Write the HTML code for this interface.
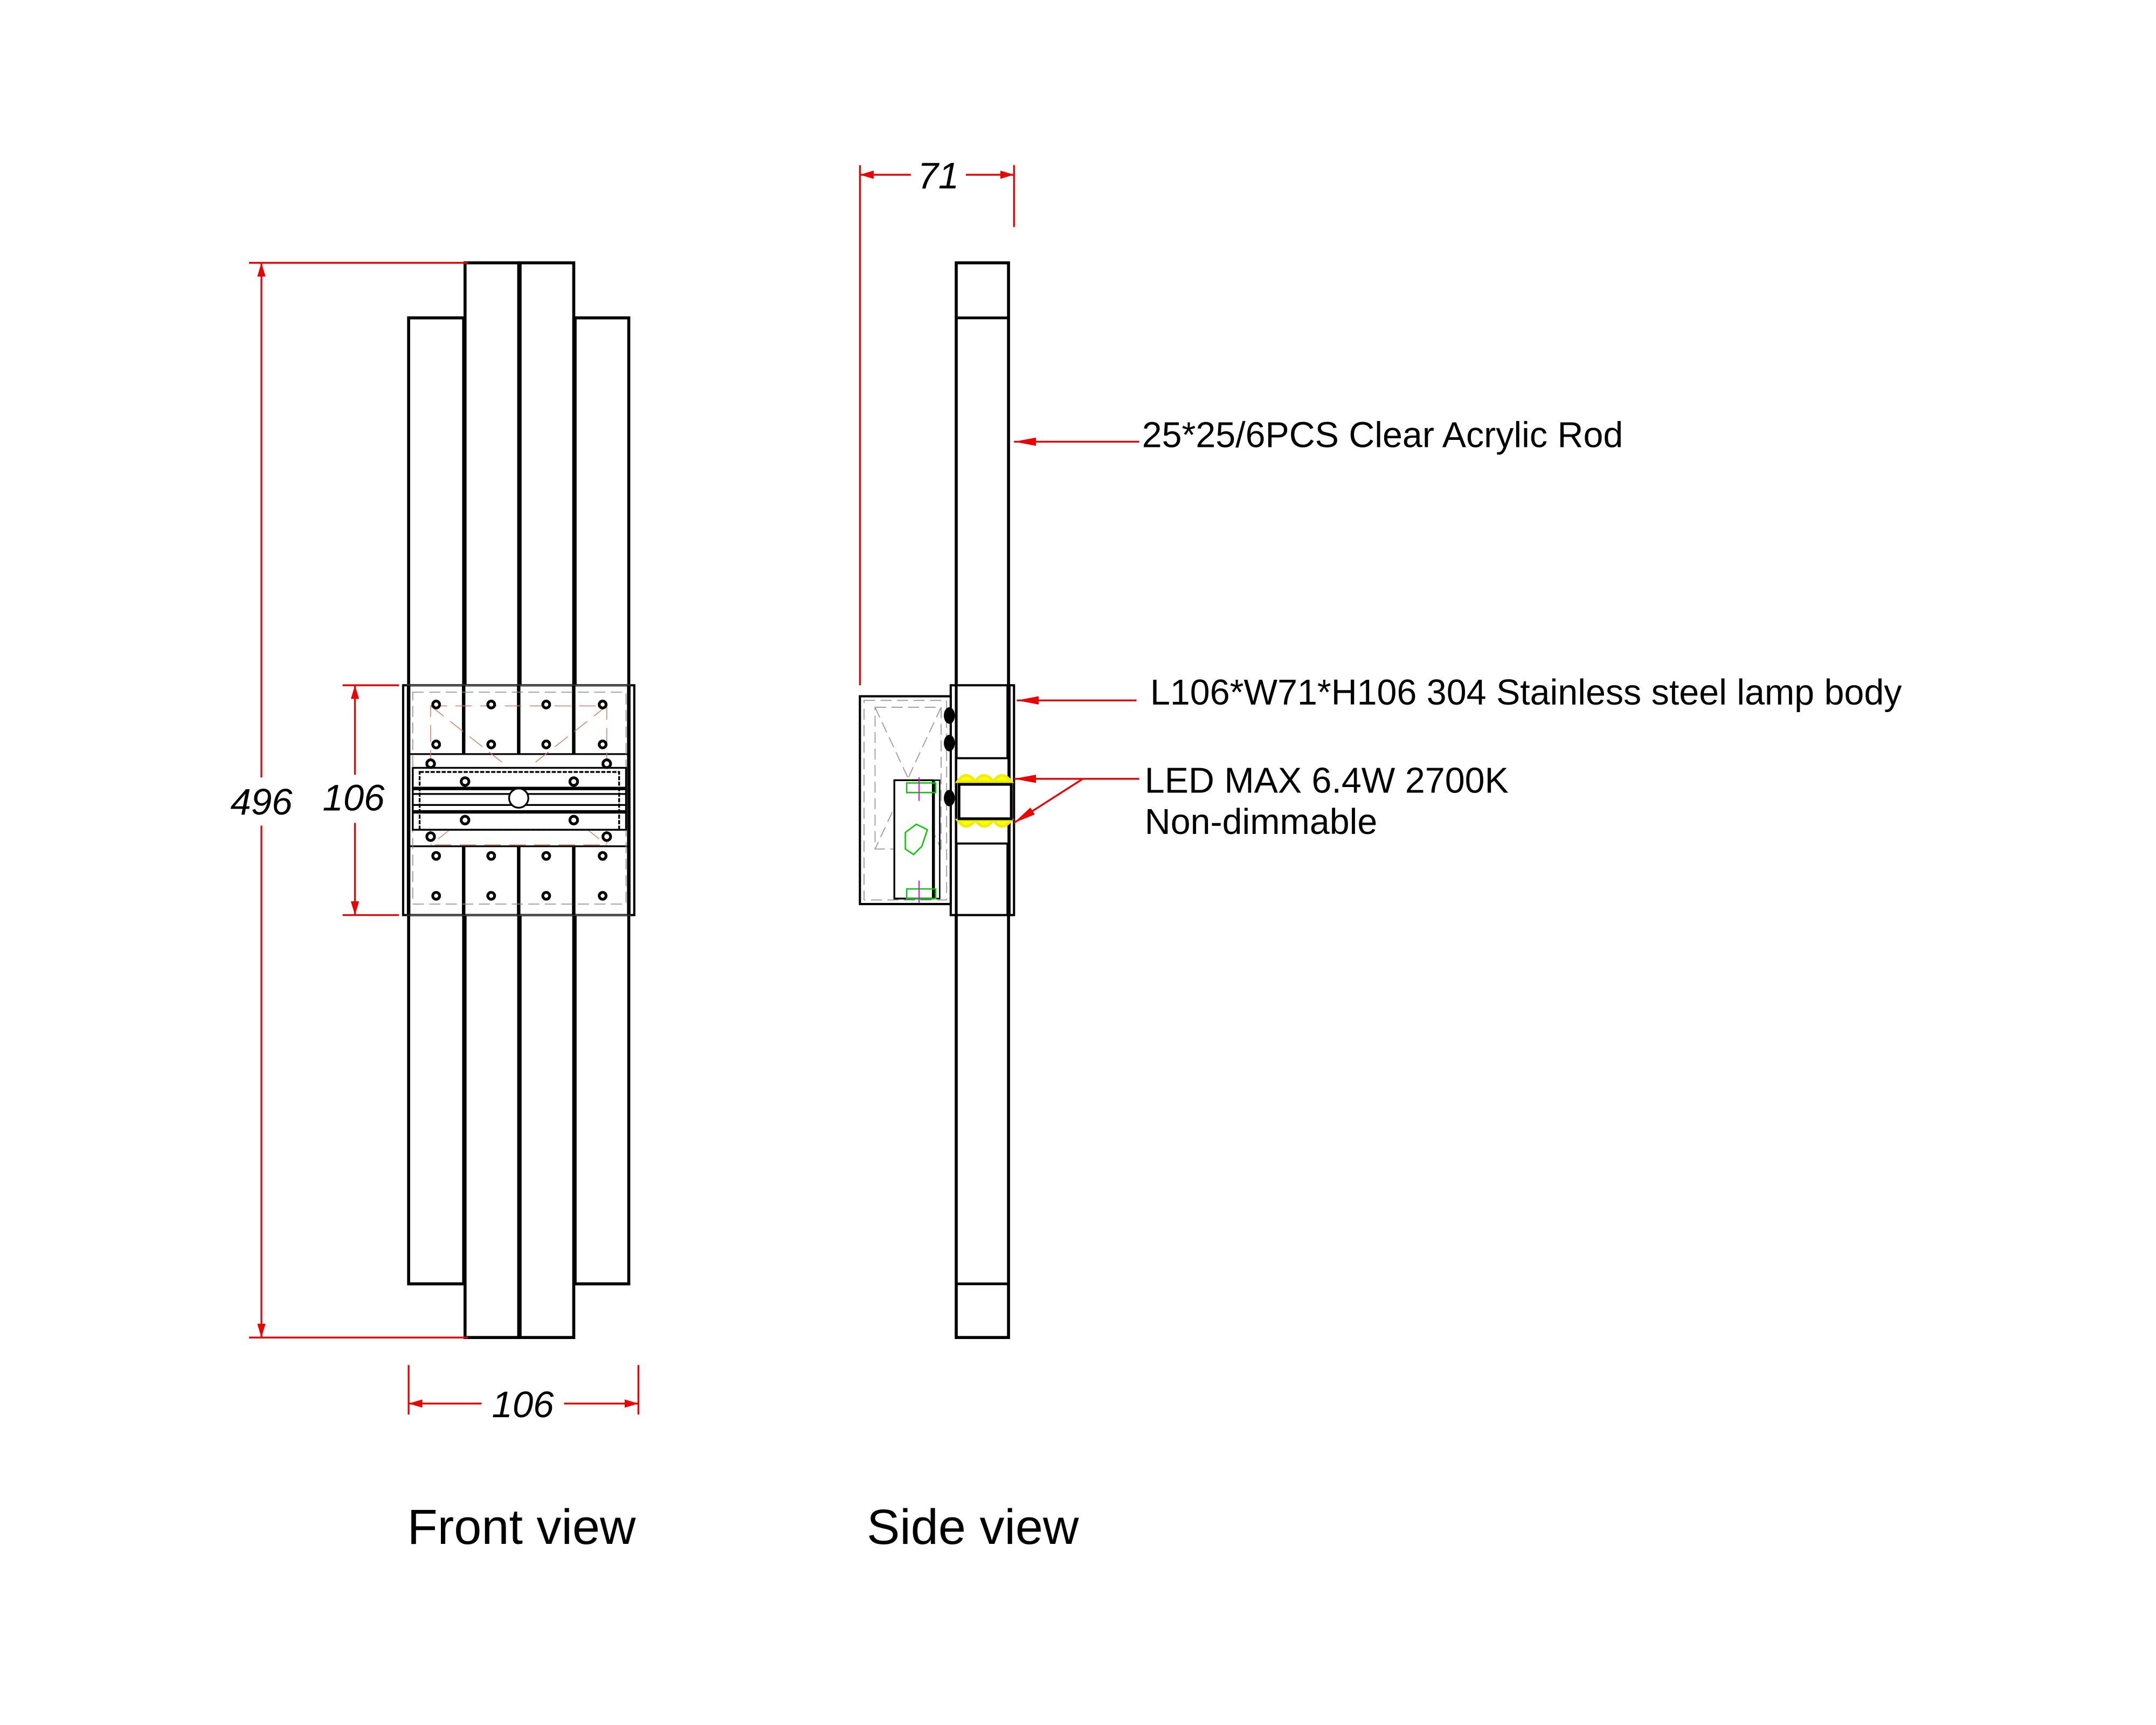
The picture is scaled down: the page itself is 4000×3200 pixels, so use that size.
<!DOCTYPE html>
<html><head><meta charset="utf-8"><style>html,body{margin:0;padding:0;background:#fff}svg{display:block}</style></head>
<body>
<svg width="4000" height="3200" viewBox="0 0 1567 1253.6" xmlns="http://www.w3.org/2000/svg" font-family="Liberation Sans, sans-serif">
<defs>
<marker id="a" viewBox="0 0 10 6" refX="10" refY="3" markerWidth="10" markerHeight="6" markerUnits="userSpaceOnUse" orient="auto"><path d="M0,0L10,3L0,6z" fill="#e00"/></marker>
<marker id="b" viewBox="0 0 16 6" refX="16" refY="3" markerWidth="16" markerHeight="6" markerUnits="userSpaceOnUse" orient="auto"><path d="M0,0L16,3L0,6z" fill="#e00"/></marker>
</defs>
<rect width="1567" height="1253.6" fill="#fff"/>
<g fill="#fff" stroke="#000" stroke-width="2.2">
<rect x="297" y="231" width="40" height="702"/>
<rect x="338" y="191" width="39" height="781"/>
<rect x="378" y="191" width="39" height="781"/>
<rect x="418" y="231" width="39" height="702"/>
</g>
<rect x="293" y="498" width="168" height="167" fill="#fff" stroke="#000" stroke-width="1.6"/>
<rect x="296" y="498" width="162" height="167" fill="none" stroke="#888" stroke-width="0.6"/>
<g stroke="#000" stroke-width="2.5">
<line x1="297" y1="498" x2="297" y2="665"/><line x1="337" y1="498" x2="337" y2="548"/><line x1="337" y1="615" x2="337" y2="665"/>
<line x1="377" y1="498" x2="377" y2="548"/><line x1="377" y1="615" x2="377" y2="665"/>
<line x1="417" y1="498" x2="417" y2="548"/><line x1="417" y1="615" x2="417" y2="665"/>
<line x1="457" y1="498" x2="457" y2="665"/>
<line x1="297" y1="548" x2="457" y2="548" stroke-width="1.3"/><line x1="297" y1="615" x2="457" y2="615" stroke-width="1.3"/>
</g>
<g fill="none" stroke="#888" stroke-width="0.6" stroke-dasharray="8,4"><rect x="300" y="503" width="155" height="154"/></g>
<g fill="none" stroke="#d08060" stroke-width="0.6" stroke-dasharray="12,6"><rect x="313" y="513" width="128" height="101"/><line x1="313" y1="513" x2="441" y2="614"/><line x1="441" y1="513" x2="313" y2="614"/></g>
<g fill="#fff" stroke="#000" stroke-width="1.3">
<rect x="300" y="558" width="155" height="45"/><rect x="305" y="561" width="145" height="42" fill="none" stroke-dasharray="3,1"/>
<line x1="300" y1="573" x2="455" y2="573" stroke-width="2.5"/><line x1="300" y1="577" x2="455" y2="577"/>
<line x1="300" y1="585" x2="455" y2="585"/><line x1="300" y1="590" x2="455" y2="590" stroke-width="2.5"/>
<circle cx="377" cy="580" r="7"/>
</g>
<g fill="#fff" stroke="#000" stroke-width="2">
<circle cx="317" cy="512" r="2.5"/><circle cx="357" cy="512" r="2.5"/><circle cx="397" cy="512" r="2.5"/><circle cx="438" cy="512" r="2.5"/>
<circle cx="317" cy="541" r="2.5"/><circle cx="357" cy="541" r="2.5"/><circle cx="397" cy="541" r="2.5"/><circle cx="438" cy="541" r="2.5"/>
<circle cx="313" cy="555" r="2.8"/><circle cx="441" cy="555" r="2.8"/><circle cx="338" cy="568" r="2.8"/><circle cx="417" cy="568" r="2.8"/>
<circle cx="338" cy="596" r="2.8"/><circle cx="417" cy="596" r="2.8"/><circle cx="313" cy="608" r="2.8"/><circle cx="441" cy="608" r="2.8"/>
<circle cx="317" cy="622" r="2.5"/><circle cx="357" cy="622" r="2.5"/><circle cx="397" cy="622" r="2.5"/><circle cx="438" cy="622" r="2.5"/>
<circle cx="317" cy="651" r="2.5"/><circle cx="357" cy="651" r="2.5"/><circle cx="397" cy="651" r="2.5"/><circle cx="438" cy="651" r="2.5"/>
</g>
<g stroke="#e00" stroke-width="1.3" fill="none">
<line x1="181" y1="191" x2="340" y2="191"/><line x1="181" y1="972" x2="340" y2="972"/>
<line x1="190" y1="565" x2="190" y2="191" marker-end="url(#a)"/><line x1="190" y1="600" x2="190" y2="972" marker-end="url(#a)"/>
<line x1="249" y1="498" x2="290" y2="498"/><line x1="249" y1="665" x2="290" y2="665"/>
<line x1="258" y1="598" x2="258" y2="665" marker-end="url(#a)"/>
<line x1="258" y1="563" x2="258" y2="498" marker-end="url(#a)"/>
<line x1="297" y1="992" x2="297" y2="1028"/><line x1="464" y1="992" x2="464" y2="1028"/>
<line x1="350" y1="1020" x2="297" y2="1020" marker-end="url(#a)"/><line x1="410" y1="1020" x2="464" y2="1020" marker-end="url(#a)"/>
</g>
<g font-style="italic" font-size="27" fill="#000" text-anchor="middle">
<text x="190" y="592">496</text><text x="257" y="589">106</text><text x="380" y="1030">106</text><text x="682" y="137">71</text>
</g>
<rect x="695" y="191" width="38" height="781" fill="#fff" stroke="#000" stroke-width="2.2"/>
<line x1="695" y1="231" x2="733" y2="231" stroke="#000" stroke-width="2"/><line x1="695" y1="933" x2="733" y2="933" stroke="#000" stroke-width="2"/>
<rect x="691" y="498" width="46" height="167" fill="#fff" stroke="#000" stroke-width="1.6"/>
<line x1="695" y1="498" x2="695" y2="665" stroke="#000" stroke-width="2"/><line x1="733" y1="498" x2="733" y2="665" stroke="#000" stroke-width="3"/>
<rect x="695" y="551" width="38" height="62" fill="#fff" stroke="#000" stroke-width="1.5"/>
<g fill="#ff0" stroke="#ee0" stroke-width="2"><path d="M696,568 q6,-9 13,0 q6,-9 13,0 q6,-9 13,0z"/><path d="M696,596 q6,9 13,0 q6,9 13,0 q6,9 13,0z"/></g>
<rect x="697" y="570" width="38" height="25" fill="#fff" stroke="#000" stroke-width="2"/>
<rect x="625" y="506" width="66" height="151" fill="#fff" stroke="#000" stroke-width="1.6"/>
<g stroke="#999" stroke-width="0.7" fill="none" stroke-dasharray="8,4"><rect x="628" y="509" width="60" height="145"/><rect x="636" y="514" width="48" height="103"/><line x1="636" y1="514" x2="684" y2="617"/><line x1="684" y1="514" x2="636" y2="617"/></g>
<rect x="650" y="567" width="28" height="86" fill="#fff" stroke="#000" stroke-width="1.3"/>
<rect x="679" y="567" width="4" height="86" fill="none" stroke="#000" stroke-width="1"/>
<g stroke="#0c0" fill="none" stroke-width="1"><rect x="659" y="569" width="21" height="7"/><rect x="659" y="646" width="21" height="7"/><path d="M658,605 l8,-6 8,4 -4,12 -6,6 -6,-4z"/></g>
<g stroke="#d0d" stroke-width="0.8"><line x1="668" y1="565" x2="668" y2="582"/><line x1="668" y1="640" x2="668" y2="656"/></g>
<g fill="#000"><ellipse cx="690" cy="520" rx="4" ry="6"/><ellipse cx="690" cy="540" rx="4" ry="6"/><ellipse cx="690" cy="580" rx="4" ry="6"/></g>
<g stroke="#e00" stroke-width="1.3" fill="none">
<line x1="625" y1="120" x2="625" y2="498"/><line x1="737" y1="120" x2="737" y2="165"/>
<line x1="662" y1="127" x2="625" y2="127" marker-end="url(#a)"/><line x1="702" y1="127" x2="737" y2="127" marker-end="url(#a)"/>
<line x1="828" y1="321" x2="737" y2="321" marker-end="url(#b)"/>
<line x1="826" y1="509" x2="739" y2="509" marker-end="url(#b)"/>
<line x1="828" y1="566" x2="787" y2="566"/>
<line x1="787" y1="566" x2="737" y2="566" marker-end="url(#b)"/>
<line x1="787" y1="566" x2="737" y2="598" marker-end="url(#b)"/>
</g>
<g font-size="26" fill="#000">
<text x="830" y="325">25*25/6PCS Clear Acrylic Rod</text>
<text x="836" y="512">L106*W71*H106 304 Stainless steel lamp body</text>
<text x="832" y="576">LED MAX 6.4W 2700K</text>
<text x="832" y="606">Non-dimmable</text>
</g>
<g font-size="36" fill="#000" text-anchor="middle">
<text x="379" y="1122">Front view</text><text x="707" y="1122">Side view</text>
</g>
</svg>
</body></html>
